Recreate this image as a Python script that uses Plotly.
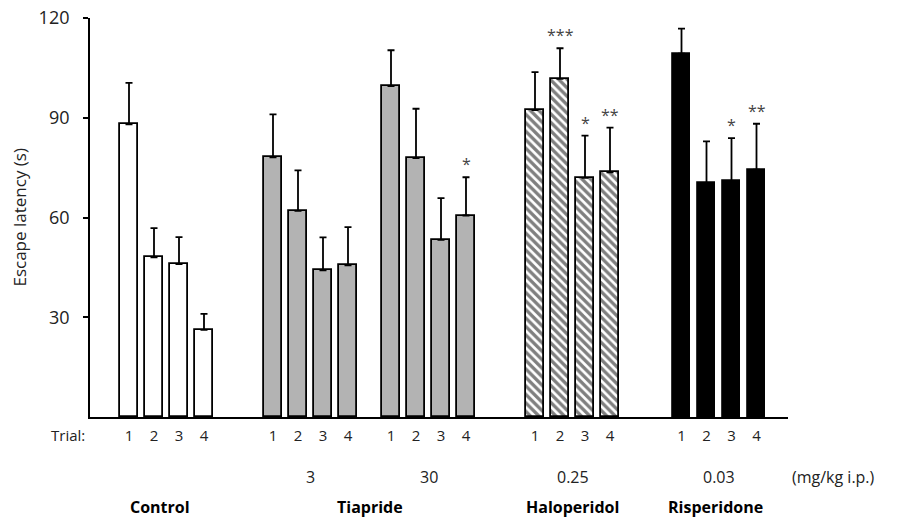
import plotly.graph_objects as go

# ---- data ----
trials = ["1", "2", "3", "4"]
group_names = ["Control", "Tiapride 3", "Tiapride 30", "Haloperidol", "Risperidone"]
control_mean = [88.0, 48.0, 46.0, 26.2]
control_sem = [12.5, 8.8, 8.1, 4.8]
tia3_mean = [78.1, 62.0, 44.1, 45.6]
tia3_sem = [12.9, 12.2, 9.9, 11.5]
tia30_mean = [99.5, 77.9, 53.3, 60.6]
tia30_sem = [10.8, 14.8, 12.5, 11.5]
halo_mean = [92.3, 101.7, 71.9, 73.6]
halo_sem = [11.4, 9.2, 12.7, 13.4]
risp_mean = [109.3, 70.3, 70.9, 74.4]
risp_sem = [7.5, 12.6, 13.0, 13.8]
control_sig = ["", "", "", ""]
tia3_sig = ["", "", "", ""]
tia30_sig = ["", "", "", "*"]
halo_sig = ["", "***", "*", "**"]
risp_sig = ["", "", "*", "**"]
dose_labels = ["", "3", "30", "0.25", "0.03"]
drug_labels = ["Control", "Tiapride", "Haloperidol", "Risperidone"]
y_ticks = [30, 60, 90, 120]

# ---- layout constants ----
group_offset = [0, 5.76, 10.48, 16.24, 22.1]
FONT = "Open Sans"
PLOT_H = 399.0
means = [control_mean, tia3_mean, tia30_mean, halo_mean, risp_mean]
sems = [control_sem, tia3_sem, tia30_sem, halo_sem, risp_sem]
sigs = [control_sig, tia3_sig, tia30_sig, halo_sig, risp_sig]
styles = [
    dict(color="white"),
    dict(color="#b3b3b3"),
    dict(color="#b3b3b3"),
    dict(color="white", pattern=dict(shape="\\", fgcolor="black", bgcolor="white", size=6, solidity=0.55)),
    dict(color="black"),
]


def below(px):
    """paper y for a point px pixels below the x axis"""
    return -px / PLOT_H


fig = go.Figure()
tickvals, ticktext = [], []
for g in range(5):
    xs = [group_offset[g] + i for i in range(len(trials))]
    tickvals += xs
    ticktext += trials
    fig.add_trace(go.Bar(
        x=xs, y=means[g], width=0.7,
        marker=dict(**styles[g], line=dict(color="black", width=1.8)),
        error_y=dict(type="data", symmetric=False, array=sems[g],
                     arrayminus=[0] * len(trials), color="black",
                     thickness=1.8, width=3.5),
        showlegend=False, name=group_names[g],
    ))
    for i, s in enumerate(sigs[g]):
        if s:
            fig.add_annotation(x=xs[i], y=means[g][i] + sems[g][i], text=s,
                               showarrow=False, xanchor="center", yanchor="bottom",
                               yshift=0,
                               font=dict(family=FONT, size=16, color="#444"))

centers = [group_offset[g] + 1.5 for g in range(5)]
for g in range(5):
    if dose_labels[g]:
        fig.add_annotation(x=centers[g], xref="x", y=below(60), yref="paper",
                           xanchor="center", yanchor="middle",
                           text=dose_labels[g], showarrow=False,
                           font=dict(family=FONT, size=16, color="#222"))
drug_x = [1.25, (centers[1] + centers[2]) / 2, centers[3], centers[4] - 0.15]
for lab, x in zip(drug_labels, drug_x):
    fig.add_annotation(x=x, xref="x", y=below(90), yref="paper",
                       xanchor="center", yanchor="middle",
                       text="<b>" + lab + "</b>", showarrow=False,
                       font=dict(family=FONT, size=16, color="black"))

fig.add_annotation(x=1.003, xref="paper", y=below(60), yref="paper",
                   xanchor="left", yanchor="middle",
                   text="(mg/kg i.p.)", showarrow=False,
                   font=dict(family=FONT, size=16, color="#222"))
fig.add_annotation(x=-0.0315, xref="paper", y=below(18), yref="paper",
                   xanchor="center", yanchor="middle",
                   text="Trial:", showarrow=False,
                   font=dict(family=FONT, size=15, color="#222"))
fig.add_annotation(x=-0.1017, xref="paper", y=0.5, yref="paper", textangle=-90,
                   xanchor="center", yanchor="middle",
                   text="Escape latency (s)", showarrow=False,
                   font=dict(family=FONT, size=17, color="#222"))

fig.update_layout(
    width=900, height=520,
    margin=dict(l=90, r=112, t=18, b=103),
    paper_bgcolor="white", plot_bgcolor="white",
    bargap=0,
    xaxis=dict(range=[-1.56, 26.36], tickvals=tickvals, ticktext=ticktext,
               showline=True, linecolor="black", linewidth=1.8, ticks="",
               showgrid=False, zeroline=False, ticklabelstandoff=4,
               automargin=False, ticklabeloverflow="allow",
               tickfont=dict(family=FONT, size=15, color="#222")),
    yaxis=dict(range=[0, 120], tickvals=y_ticks, showline=True, linecolor="black",
               linewidth=1.8, ticks="outside", ticklen=5, tickwidth=1.5,
               tickcolor="black", showgrid=False, zeroline=False,
               ticklabelstandoff=10, automargin=False, ticklabeloverflow="allow",
               tickfont=dict(family=FONT, size=18, color="#222")),
)

# remove the browser's default 8px body margin so the figure fills the window
fig.write_html("out.html", config={"displayModeBar": False},
               post_script="document.body.style.margin='0';")
